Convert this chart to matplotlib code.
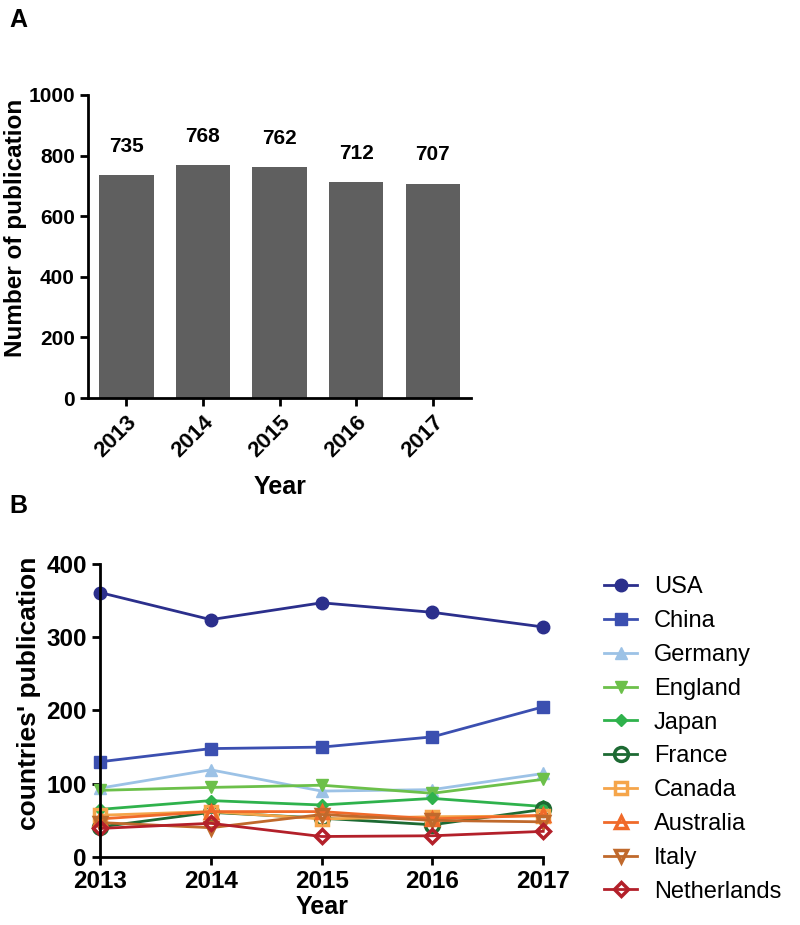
import numpy as np
import matplotlib.pyplot as plt

plt.rcParams['font.family'] = ['Liberation Sans', 'DejaVu Sans']

# Daten A
years = ['2013', '2014', '2015', '2016', '2017']
totals = [735, 768, 762, 712, 707]

# Daten B
yrs = [2013, 2014, 2015, 2016, 2017]
countries = ['USA', 'China', 'Germany', 'England', 'Japan',
             'France', 'Canada', 'Australia', 'Italy', 'Netherlands']
usa = [361, 324, 347, 334, 314]
china = [130, 148, 150, 164, 205]
germany = [94, 119, 90, 92, 114]
england = [91, 95, 98, 87, 106]
japan = [65, 77, 71, 80, 69]
france = [41, 61, 53, 44, 65]
canada = [57, 62, 52, 55, 56]
australia = [52, 62, 62, 52, 57]
italy = [47, 40, 58, 50, 48]
netherlands = [39, 46, 28, 29, 35]
series = [usa, china, germany, england, japan, france, canada, australia, italy, netherlands]

colors = ['#2b2f8c', '#3b4fb0', '#9cc2e6', '#6cc04a', '#2fb24c',
          '#1d6a33', '#f5a54a', '#f06a2a', '#c0692c', '#b3202a']
markers = ['o', 's', '^', 'v', 'D', 'o', 's', '^', 'v', 'D']
filled = [True, True, True, True, True, False, False, False, False, False]
msizes = [9, 9, 9, 9, 6, 10, 9, 9, 9, 7]

fig = plt.figure(figsize=(8, 9.25), dpi=100)

# --- A ---
ax1 = fig.add_axes([0.11, 0.5697, 0.479, 0.3276])
x = np.arange(len(years))
ax1.bar(x, totals, width=0.71, color='#5f5f5f')
for xi, v in zip(x, totals):
    ax1.annotate(str(v), (xi, v), xytext=(0, 14), textcoords='offset points',
                 ha='center', va='bottom', fontsize=15, fontweight='bold')
ax1.set_xlim(-0.5, 4.5)
ax1.set_ylim(0, 1000)
ax1.set_yticks([0, 200, 400, 600, 800, 1000])
ax1.set_xticks(x)
ax1.set_xticklabels(years, rotation=45, ha='right', rotation_mode='anchor')
ax1.set_xlabel('Year', fontsize=18, fontweight='bold', labelpad=10)
ax1.set_ylabel('Number of publication', fontsize=17.5, fontweight='bold', labelpad=1, y=0.56)
for s in ['top', 'right']:
    ax1.spines[s].set_visible(False)
for s in ['left', 'bottom']:
    ax1.spines[s].set_linewidth(2)
ax1.tick_params(width=2, length=6, labelsize=15)
ax1.tick_params(axis='x', labelsize=16)
for lab in ax1.get_xticklabels() + ax1.get_yticklabels():
    lab.set_fontweight('bold')

# --- B ---
ax2 = fig.add_axes([0.125, 0.0735, 0.554, 0.3168])
for name, vals, c, m, f, ms in zip(countries, series, colors, markers, filled, msizes):
    ax2.plot(yrs, vals, color=c, marker=m, markersize=ms, linewidth=2,
             markerfacecolor=c if f else 'none', markeredgewidth=2.5 if not f else 1,
             markeredgecolor=c, label=name, clip_on=False)
ax2.set_xlim(2013, 2017)
ax2.set_ylim(0, 400)
ax2.set_xticks(yrs)
ax2.set_yticks([0, 100, 200, 300, 400])
ax2.set_xlabel('Year', fontsize=18, fontweight='bold', labelpad=1)
ax2.set_ylabel("countries' publication", fontsize=19, fontweight='bold', labelpad=4, y=0.56)
for s in ['top', 'right']:
    ax2.spines[s].set_visible(False)
for s in ['left', 'bottom']:
    ax2.spines[s].set_linewidth(2)
ax2.tick_params(width=2, length=6, labelsize=17.5)
for lab in ax2.get_xticklabels() + ax2.get_yticklabels():
    lab.set_fontweight('bold')
ax2.legend(loc='upper left', bbox_to_anchor=(1.09, 1.03), frameon=False,
           fontsize=17, handlelength=1.4, labelspacing=0.5, handletextpad=0.7)

fig.text(0.012, 0.978, 'A', fontsize=18, fontweight='bold', va='center')
fig.text(0.012, 0.453, 'B', fontsize=18, fontweight='bold', va='center')

plt.savefig('out.png', dpi=100)
